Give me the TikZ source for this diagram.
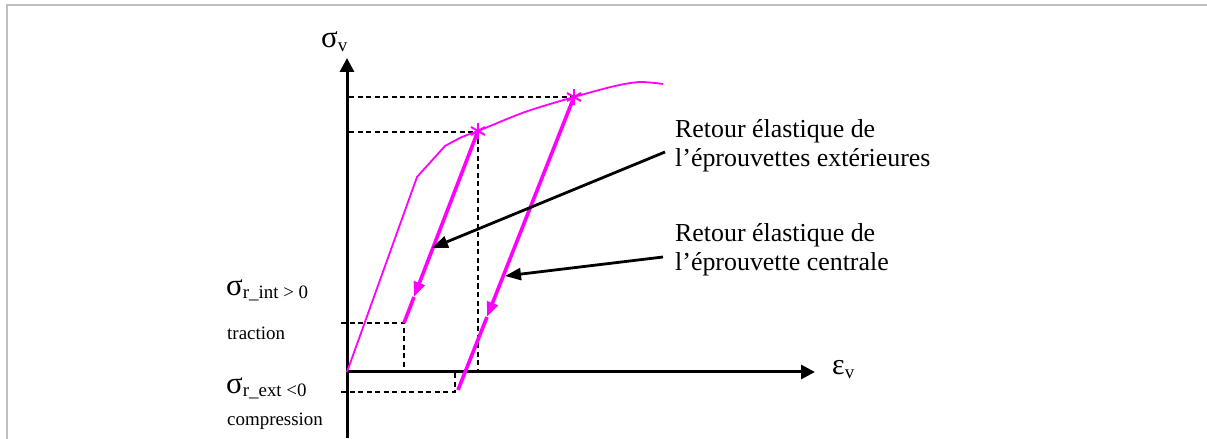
\documentclass[tikz,border=0pt]{standalone}
\usepackage{fontspec}
\setmainfont{Liberation Serif}
\usetikzlibrary{arrows.meta,calc}
\definecolor{mag}{RGB}{255,0,255}
\definecolor{frame}{RGB}{192,192,192}
\tikzset{
  axis/.style={line width=3bp,-{Triangle[length=14bp,width=14bp]}},
  guide/.style={line width=1.5bp,dash pattern=on 5bp off 3.5bp},
  loadcurve/.style={mag,line width=1.8bp},
  unload/.style={mag,line width=3.6bp},
  unloadtip/.style={mag,line width=3.6bp,-{Triangle[length=15bp,width=11bp]}},
  callout/.style={line width=2.8bp,-{Triangle[length=16bp,width=12bp]}},
  bigtxt/.style={inner sep=0pt,font=\fontsize{26}{29}\selectfont},
  smalltxt/.style={inner sep=0pt,font=\fontsize{19}{22}\selectfont},
  starmark/.style={mag,line width=2bp}
}
\newcommand{\sig}{{\fontsize{31}{31}\selectfont σ}}
\begin{document}
\begin{tikzpicture}[x=1bp,y=-1bp]
\useasboundingbox (0,0) rectangle (1207,439);
% frame
\draw[frame,line width=2bp] (7,439) -- (7,5) -- (1207,5);
% coordinates
\coordinate (O) at (347,372);
\coordinate (ytop) at (347,58);
\coordinate (ybot) at (347,438);
\coordinate (xend) at (815,372);
\coordinate (S1) at (478,131);
\coordinate (S2) at (574,97);
\coordinate (K) at (417,177);
\coordinate (M1) at (414,297);
\coordinate (E1) at (404,323);
\coordinate (M2) at (487,317);
\coordinate (E2) at (458,390);
% axes
\draw[line width=3bp] (ybot) -- (O);
\draw[axis] (O) -- (ytop);
\draw[axis] (O) -- (xend);
% guides
\draw[guide] (349,97) -- (S2);
\draw[guide] (349,132) -- (478,132) -- (478,372);
\draw[guide] (341,323) -- (404,323) -- (404,372);
\draw[guide] (341,392) -- (455,392) -- (455,372);
% loading curve
\draw[loadcurve] (O) -- (K) -- (445,146) -- plot[smooth] coordinates {(445,146) (462,137) (478,131) (525,112) (574,97) (615,86) (640,82) (663,84)};
% unloading lines
\draw[unloadtip] (S1) -- (M1);
\draw[unload] (M1) -- (E1);
\draw[unloadtip] (S2) -- (M2);
\draw[unload] (M2) -- (E2);
% stars
\foreach \p in {S1,S2}{
  \draw[starmark] ($(\p)+(0,-8)$) -- ($(\p)+(0,8)$);
  \draw[starmark] ($(\p)+(-7,-4)$) -- ($(\p)+(7,4)$);
  \draw[starmark] ($(\p)+(-7,4)$) -- ($(\p)+(7,-4)$);
}
% axis labels
\node[inner sep=0pt,anchor=base west] (lsv) at (321,48) {\sig\raisebox{-4bp}{\fontsize{19}{19}\selectfont v}};
\node[inner sep=0pt,anchor=base west] (lev) at (832,375) {{\fontsize{30}{30}\selectfont ε}\raisebox{-4bp}{\fontsize{19}{19}\selectfont v}};
% left labels
\node[smalltxt,anchor=base west] (lint) at (226,296) {\sig\raisebox{-3bp}{r\_int > 0}};
\node[smalltxt,anchor=base west] (ltr) at (227,340) {traction};
\node[smalltxt,anchor=base west] (lext) at (226,394) {\sig\raisebox{-3bp}{r\_ext <0}};
\node[smalltxt,anchor=base west] (lcomp) at (227,426) {compression};
% annotations
\node[bigtxt,anchor=base west] (a1) at (675,138) {Retour élastique de};
\node[bigtxt,anchor=base west] (a2) at (675,167) {l’éprouvettes extérieures};
\node[bigtxt,anchor=base west] (b1) at (675,242) {Retour élastique de};
\node[bigtxt,anchor=base west] (b2) at (675,271) {l’éprouvette centrale};
\coordinate (c1) at (665,152);
\coordinate (t1) at (432,248);
\coordinate (c2) at (663,257);
\coordinate (t2) at (505,276);
\draw[callout] (c1) -- (t1);
\draw[callout] (c2) -- (t2);
\end{tikzpicture}
\end{document}
